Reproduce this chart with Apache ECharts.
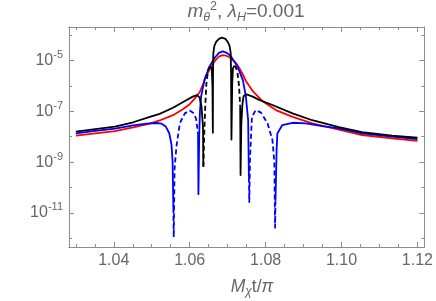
<!DOCTYPE html>
<html><head><meta charset="utf-8">
<script src="https://cdn.jsdelivr.net/npm/echarts@6/dist/echarts.min.js"></script>
<style>html,body{margin:0;padding:0;background:#fff}#c{width:436px;height:301px}</style>
</head><body><div id="c"></div>
<script>
// Tick positions
const xMajorTicks = [1.04, 1.06, 1.08, 1.10, 1.12];
const xMinorTicks = [1.03, 1.035, 1.045, 1.05, 1.055, 1.065, 1.07, 1.075, 1.085, 1.09, 1.095, 1.105, 1.11, 1.115];
const yMajorTicks = [1e-11, 1e-9, 1e-7, 1e-5];
const yMinorTicks = [1e-12, 1e-10, 1e-8, 1e-6, 1e-4];

// Black curve (sign: 1 solid, -1 dashed, 0 shared joint)
const blackX = [1.03,1.0346,1.0403,1.0451,1.0495,1.0521,1.0556,1.0591,1.0608,1.0619,1.0626,1.0631,1.0635,1.0636,1.0638,1.0641,1.0644,1.0648,1.0651,1.0655,1.0658,1.0660,1.0661,1.06614,1.06623,1.0665,1.0670,1.0677,1.0685,1.0694,1.0700,1.0705,1.0708,1.0709,1.0710,1.0712,1.0714,1.0718,1.0722,1.0726,1.0730,1.0733,1.0734,1.0736,1.0739,1.0742,1.0750,1.0766,1.0783,1.0818,1.0871,1.0923,1.0993,1.1054,1.1133,1.12];
const blackY = [1.58e-8,1.95e-8,2.51e-8,3.72e-8,6.03e-8,7.94e-8,1.38e-7,2.75e-7,3.80e-7,4.37e-7,3.55e-7,1.58e-7,2.51e-8,6.6e-10,1.0e-8,1.58e-7,1.26e-6,3.55e-6,5.62e-6,6.31e-6,5.01e-6,1.0e-6,1.45e-8,3.16e-6,2.0e-5,3.80e-5,5.50e-5,7.08e-5,7.94e-5,7.08e-5,5.50e-5,3.80e-5,2.0e-5,3.16e-6,7.76e-9,1.26e-6,5.01e-6,6.31e-6,5.25e-6,3.16e-6,1.0e-6,1.58e-7,3.09e-10,3.16e-8,2.0e-7,3.98e-7,4.68e-7,3.80e-7,2.82e-7,1.78e-7,8.32e-8,4.47e-8,2.40e-8,1.51e-8,1.10e-8,9.12e-9];
const blackSign = [1,1,1,1,1,1,1,1,1,1,1,1,1,0,-1,-1,-1,-1,0,1,1,1,1,1,1,1,1,1,1,1,1,1,1,1,1,1,1,0,-1,-1,-1,0,1,1,1,1,1,1,1,1,1,1,1,1,1,1];

// Red curve (all positive)
const redX = [1.03,1.0346,1.0403,1.0451,1.0495,1.0521,1.0556,1.0582,1.0600,1.0613,1.0626,1.0635,1.0643,1.0652,1.0661,1.0670,1.0678,1.0687,1.0696,1.0705,1.0713,1.0722,1.0731,1.0740,1.0748,1.0766,1.0792,1.0827,1.0871,1.0923,1.0993,1.1054,1.1133,1.12];
const redY = [1.10e-8,1.32e-8,1.66e-8,2.34e-8,3.31e-8,4.37e-8,7.08e-8,1.20e-7,1.91e-7,3.16e-7,5.62e-7,1.12e-6,2.51e-6,4.27e-6,7.59e-6,1.12e-5,1.45e-5,1.62e-5,1.55e-5,1.35e-5,1.07e-5,7.94e-6,5.01e-6,2.82e-6,1.58e-6,6.31e-7,2.51e-7,1.12e-7,6.03e-8,3.39e-8,1.91e-8,1.17e-8,8.71e-9,6.92e-9];

// Blue curve
const blueX = [1.03,1.0346,1.0403,1.0451,1.0486,1.0512,1.0525,1.0537,1.0546,1.0552,1.0555,1.0557,1.0558,1.0560,1.0565,1.0574,1.0587,1.0600,1.0611,1.0617,1.0622,1.0623,1.0625,1.0627,1.0630,1.0639,1.0652,1.0665,1.0677,1.0687,1.0698,1.0709,1.0726,1.0740,1.0748,1.0754,1.0756,1.0757,1.0759,1.0764,1.0774,1.0788,1.0805,1.0818,1.0823,1.0825,1.0826,1.0829,1.0831,1.0844,1.0871,1.0906,1.0949,1.0993,1.1054,1.1133,1.12];
const blueY = [1.35e-8,1.66e-8,2.09e-8,2.82e-8,3.31e-8,3.47e-8,3.31e-8,2.51e-8,1.41e-8,5.01e-9,1.0e-9,1.58e-11,1.12e-12,5.01e-10,4.07e-9,3.39e-8,8.32e-8,1.07e-7,8.32e-8,5.01e-8,1.26e-8,5.5e-11,1.0e-8,1.0e-7,3.80e-7,1.74e-6,5.75e-6,1.23e-5,2.0e-5,2.29e-5,2.0e-5,1.45e-5,5.75e-6,1.74e-6,3.80e-7,4.57e-8,2.51e-10,2.69e-11,1.58e-9,6.17e-8,1.12e-7,8.91e-8,3.39e-8,7.41e-9,1.0e-9,2.63e-12,3.16e-11,3.16e-9,1.35e-8,2.88e-8,3.55e-8,3.39e-8,2.63e-8,2.14e-8,1.35e-8,1.02e-8,8.13e-9];
const blueSign = [1,1,1,1,1,1,1,1,1,1,1,0,-1,-1,-1,-1,-1,-1,-1,-1,0,1,1,1,1,1,1,1,1,1,1,1,1,1,1,1,0,-1,-1,-1,-1,-1,-1,-1,-1,-1,0,1,1,1,1,1,1,1,1,1,1];

const FONT = '"Liberation Sans", Arial, sans-serif';
const FRAME = '#8c8c8c';
const TXT = '#666666';
const LW = 1.8;

function split(xs, ys, signs) {
  const solid = [], dashed = [];
  xs.forEach((x, i) => {
    const s = signs ? signs[i] : 1;
    solid.push([x, s >= 0 ? ys[i] : '-']);
    dashed.push([x, s <= 0 ? ys[i] : '-']);
  });
  return { solid, dashed };
}
const blk = split(blackX, blackY, blackSign);
const red = split(redX, redY, null);
const blu = split(blueX, blueY, blueSign);

const X_MIN = 1.0282, X_MAX = 1.1218;
const Y_MIN = Math.pow(10, -12.34), Y_MAX = Math.pow(10, -3.68);

function xAx(pos, ticks, len, labels) {
  return {
    type: 'value', min: X_MIN, max: X_MAX, position: pos,
    axisLine: { show: true, onZero: false, lineStyle: { color: FRAME, width: 1 } },
    axisTick: { show: true, inside: true, length: len, customValues: ticks, lineStyle: { color: FRAME, width: 1 } },
    axisLabel: labels ? { show: true, customValues: ticks, margin: 6, color: TXT, fontSize: 16, fontFamily: FONT,
      formatter: v => v.toFixed(2) } : { show: false },
    splitLine: { show: false }
  };
}
function yAx(pos, ticks, len, labels) {
  return {
    type: 'log', logBase: 10, min: Y_MIN, max: Y_MAX, position: pos,
    axisLine: { show: true, onZero: false, lineStyle: { color: FRAME, width: 1 } },
    axisTick: { show: true, inside: true, length: len, customValues: ticks, lineStyle: { color: FRAME, width: 1 } },
    axisLabel: labels ? { show: true, customValues: ticks, margin: 6, color: TXT, fontFamily: FONT,
      formatter: v => '{b|10}{s|-' + Math.round(-Math.log10(v)) + '}',
      rich: { b: { fontSize: 16, lineHeight: 22, color: TXT, fontFamily: FONT },
              s: { fontSize: 11, lineHeight: 11, verticalAlign: 'top', color: TXT, fontFamily: FONT } } } : { show: false },
    splitLine: { show: false }, minorTick: { show: false }
  };
}

function line(data, color, dashed, z) {
  return { type: 'line', data, showSymbol: false, symbol: 'none', connectNulls: false, z, animation: false,
    xAxisIndex: 0, yAxisIndex: 0,
    lineStyle: { color, width: LW, type: dashed ? [5, 3] : 'solid', cap: 'butt', join: 'round' } };
}

const chart = echarts.init(document.getElementById('c'), null, { renderer: 'canvas' });
chart.setOption({
  backgroundColor: '#ffffff',
  animation: false,
  grid: { left: 69, right: 10, top: 27, bottom: 54, containLabel: false },
  xAxis: [xAx('bottom', xMajorTicks, 5, true), xAx('bottom', xMinorTicks, 3, false),
          xAx('top', xMajorTicks, 5, false), xAx('top', xMinorTicks, 3, false)],
  yAxis: [yAx('left', yMajorTicks, 5, true), yAx('left', yMinorTicks, 3, false),
          yAx('right', yMajorTicks, 5, false), yAx('right', yMinorTicks, 3, false)],
  series: [
    line(red.solid, '#ff0000', false, 2),
    line(blu.solid, '#0000ff', false, 3),
    line(blu.dashed, '#0000ff', true, 3),
    line(blk.solid, '#000000', false, 4),
    line(blk.dashed, '#000000', true, 4)
  ],
  graphic: [
    { type: 'text', x: 246, y: 0, style: {
        text: '{i|m}{sb|θ}{sp|2}{n|, }{i|λ}{sb|H}{n|=0.001}', align: 'center', verticalAlign: 'top',
        rich: {
          i: { fontSize: 19, fontStyle: 'italic', lineHeight: 24, fill: TXT, fontFamily: FONT },
          n: { fontSize: 19, lineHeight: 24, fill: TXT, fontFamily: FONT },
          sb: { fontSize: 12.5, fontStyle: 'italic', lineHeight: 14, verticalAlign: 'bottom', fill: TXT, fontFamily: FONT },
          sp: { fontSize: 12.5, lineHeight: 12, verticalAlign: 'top', fill: TXT, fontFamily: FONT }
        } } },
    { type: 'text', x: 252, y: 276, style: {
        text: '{i|M}{sb|χ}{n|t/}{i|π}', align: 'center', verticalAlign: 'top',
        rich: {
          i: { fontSize: 17.5, fontStyle: 'italic', lineHeight: 22, fill: TXT, fontFamily: FONT },
          n: { fontSize: 17.5, lineHeight: 22, fill: TXT, fontFamily: FONT },
          sb: { fontSize: 12, fontStyle: 'italic', lineHeight: 13, verticalAlign: 'bottom', fill: TXT, fontFamily: FONT }
        } } }
  ]
});
</script></body></html>
